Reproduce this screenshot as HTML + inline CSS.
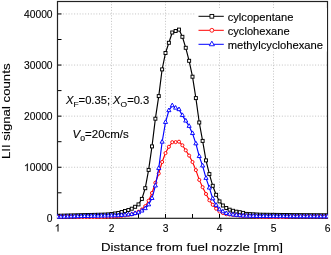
<!DOCTYPE html>
<html><head><meta charset="utf-8"><style>
html,body{margin:0;padding:0;background:#fff;width:331px;height:255px;overflow:hidden}
svg text{font-family:"Liberation Sans", sans-serif;fill:#000;stroke:#000;stroke-width:0.12px}
svg{will-change:transform}
.g1{fill:#000;stroke:#000;stroke-width:0.12px}
</style></head><body>
<svg width="331" height="255" viewBox="0 0 331 255" style="display:block"><g stroke="#b4b4b4" stroke-width="0.8" stroke-dasharray="1 1.77"><line x1="111.5" y1="1.5" x2="111.5" y2="218" /><line x1="165.5" y1="1.5" x2="165.5" y2="218" /><line x1="219.5" y1="1.5" x2="219.5" y2="218" /><line x1="273.5" y1="1.5" x2="273.5" y2="218" /><line x1="57.5" y1="167.25" x2="327.5" y2="167.25" /><line x1="57.5" y1="116.15" x2="327.5" y2="116.15" /><line x1="57.5" y1="65.05" x2="327.5" y2="65.05" /><line x1="57.5" y1="13.95" x2="327.5" y2="13.95" /></g><g stroke="#000" stroke-width="1"><line x1="84.5" y1="218" x2="84.5" y2="214" /><line x1="111.5" y1="218" x2="111.5" y2="214" /><line x1="138.5" y1="218" x2="138.5" y2="214" /><line x1="165.5" y1="218" x2="165.5" y2="214" /><line x1="192.5" y1="218" x2="192.5" y2="214" /><line x1="219.5" y1="218" x2="219.5" y2="214" /><line x1="246.5" y1="218" x2="246.5" y2="214" /><line x1="273.5" y1="218" x2="273.5" y2="214" /><line x1="300.5" y1="218" x2="300.5" y2="214" /><line x1="57.5" y1="192.80" x2="61.5" y2="192.80" /><line x1="57.5" y1="167.25" x2="61.5" y2="167.25" /><line x1="57.5" y1="141.70" x2="61.5" y2="141.70" /><line x1="57.5" y1="116.15" x2="61.5" y2="116.15" /><line x1="57.5" y1="90.60" x2="61.5" y2="90.60" /><line x1="57.5" y1="65.05" x2="61.5" y2="65.05" /><line x1="57.5" y1="39.50" x2="61.5" y2="39.50" /><line x1="57.5" y1="13.95" x2="61.5" y2="13.95" /></g><rect x="57.5" y="1.5" width="270" height="216.8" fill="none" stroke="#222" stroke-width="1.2" /><clipPath id="pc"><rect x="57" y="1" width="271" height="218" /></clipPath><g clip-path="url(#pc)"><polyline fill="none" stroke="#000" stroke-width="1.15" points="57.50,215.80 60.88,215.71 64.25,215.63 67.62,215.54 71.00,215.46 74.38,215.37 77.75,215.29 81.12,215.20 84.50,215.11 87.88,215.03 91.25,214.94 94.62,214.86 98.00,214.77 101.38,214.69 104.75,214.60 108.12,214.40 111.50,214.00 114.88,213.50 118.25,213.00 121.62,212.00 125.00,211.00 128.38,210.00 131.75,208.70 135.12,206.80 138.50,204.40 141.88,198.90 145.25,188.20 148.62,169.90 152.00,146.40 155.38,118.70 158.75,96.10 162.12,69.40 165.50,53.00 168.88,42.80 172.25,32.50 175.62,31.00 179.00,29.60 182.38,36.80 185.75,47.80 189.12,60.80 192.50,76.70 195.88,98.10 199.25,122.50 202.62,140.90 206.00,160.40 209.38,174.10 212.75,185.80 216.12,194.80 219.50,201.40 222.88,205.50 226.25,208.00 229.62,209.70 233.00,210.80 236.38,211.70 239.75,212.20 243.12,212.90 246.50,213.90 249.88,214.10 253.25,214.30 256.62,214.50 260.00,214.70 263.38,214.74 266.75,214.78 270.12,214.82 273.50,214.86 276.88,214.90 280.25,214.94 283.62,214.98 287.00,215.02 290.38,215.06 293.75,215.10 297.12,215.12 300.50,215.14 303.88,215.16 307.25,215.18 310.62,215.20 314.00,215.22 317.38,215.24 320.75,215.26 324.12,215.28 327.50,215.30" /><g fill="#fff" stroke="#000" stroke-width="0.95"><rect x="56.00" y="214.30" width="3.00" height="3.00" /><rect x="59.38" y="214.21" width="3.00" height="3.00" /><rect x="62.75" y="214.13" width="3.00" height="3.00" /><rect x="66.12" y="214.04" width="3.00" height="3.00" /><rect x="69.50" y="213.96" width="3.00" height="3.00" /><rect x="72.88" y="213.87" width="3.00" height="3.00" /><rect x="76.25" y="213.79" width="3.00" height="3.00" /><rect x="79.62" y="213.70" width="3.00" height="3.00" /><rect x="83.00" y="213.61" width="3.00" height="3.00" /><rect x="86.38" y="213.53" width="3.00" height="3.00" /><rect x="89.75" y="213.44" width="3.00" height="3.00" /><rect x="93.12" y="213.36" width="3.00" height="3.00" /><rect x="96.50" y="213.27" width="3.00" height="3.00" /><rect x="99.88" y="213.19" width="3.00" height="3.00" /><rect x="103.25" y="213.10" width="3.00" height="3.00" /><rect x="106.62" y="212.90" width="3.00" height="3.00" /><rect x="110.00" y="212.50" width="3.00" height="3.00" /><rect x="113.38" y="212.00" width="3.00" height="3.00" /><rect x="116.75" y="211.50" width="3.00" height="3.00" /><rect x="120.12" y="210.50" width="3.00" height="3.00" /><rect x="123.50" y="209.50" width="3.00" height="3.00" /><rect x="126.88" y="208.50" width="3.00" height="3.00" /><rect x="130.25" y="207.20" width="3.00" height="3.00" /><rect x="133.62" y="205.30" width="3.00" height="3.00" /><rect x="137.00" y="202.90" width="3.00" height="3.00" /><rect x="140.38" y="197.40" width="3.00" height="3.00" /><rect x="143.75" y="186.70" width="3.00" height="3.00" /><rect x="147.12" y="168.40" width="3.00" height="3.00" /><rect x="150.50" y="144.90" width="3.00" height="3.00" /><rect x="153.88" y="117.20" width="3.00" height="3.00" /><rect x="157.25" y="94.60" width="3.00" height="3.00" /><rect x="160.62" y="67.90" width="3.00" height="3.00" /><rect x="164.00" y="51.50" width="3.00" height="3.00" /><rect x="167.38" y="41.30" width="3.00" height="3.00" /><rect x="170.75" y="31.00" width="3.00" height="3.00" /><rect x="174.12" y="29.50" width="3.00" height="3.00" /><rect x="177.50" y="28.10" width="3.00" height="3.00" /><rect x="180.88" y="35.30" width="3.00" height="3.00" /><rect x="184.25" y="46.30" width="3.00" height="3.00" /><rect x="187.62" y="59.30" width="3.00" height="3.00" /><rect x="191.00" y="75.20" width="3.00" height="3.00" /><rect x="194.38" y="96.60" width="3.00" height="3.00" /><rect x="197.75" y="121.00" width="3.00" height="3.00" /><rect x="201.12" y="139.40" width="3.00" height="3.00" /><rect x="204.50" y="158.90" width="3.00" height="3.00" /><rect x="207.88" y="172.60" width="3.00" height="3.00" /><rect x="211.25" y="184.30" width="3.00" height="3.00" /><rect x="214.62" y="193.30" width="3.00" height="3.00" /><rect x="218.00" y="199.90" width="3.00" height="3.00" /><rect x="221.38" y="204.00" width="3.00" height="3.00" /><rect x="224.75" y="206.50" width="3.00" height="3.00" /><rect x="228.12" y="208.20" width="3.00" height="3.00" /><rect x="231.50" y="209.30" width="3.00" height="3.00" /><rect x="234.88" y="210.20" width="3.00" height="3.00" /><rect x="238.25" y="210.70" width="3.00" height="3.00" /><rect x="241.62" y="211.40" width="3.00" height="3.00" /><rect x="245.00" y="212.40" width="3.00" height="3.00" /><rect x="248.38" y="212.60" width="3.00" height="3.00" /><rect x="251.75" y="212.80" width="3.00" height="3.00" /><rect x="255.12" y="213.00" width="3.00" height="3.00" /><rect x="258.50" y="213.20" width="3.00" height="3.00" /><rect x="261.88" y="213.24" width="3.00" height="3.00" /><rect x="265.25" y="213.28" width="3.00" height="3.00" /><rect x="268.62" y="213.32" width="3.00" height="3.00" /><rect x="272.00" y="213.36" width="3.00" height="3.00" /><rect x="275.38" y="213.40" width="3.00" height="3.00" /><rect x="278.75" y="213.44" width="3.00" height="3.00" /><rect x="282.12" y="213.48" width="3.00" height="3.00" /><rect x="285.50" y="213.52" width="3.00" height="3.00" /><rect x="288.88" y="213.56" width="3.00" height="3.00" /><rect x="292.25" y="213.60" width="3.00" height="3.00" /><rect x="295.62" y="213.62" width="3.00" height="3.00" /><rect x="299.00" y="213.64" width="3.00" height="3.00" /><rect x="302.38" y="213.66" width="3.00" height="3.00" /><rect x="305.75" y="213.68" width="3.00" height="3.00" /><rect x="309.12" y="213.70" width="3.00" height="3.00" /><rect x="312.50" y="213.72" width="3.00" height="3.00" /><rect x="315.88" y="213.74" width="3.00" height="3.00" /><rect x="319.25" y="213.76" width="3.00" height="3.00" /><rect x="322.62" y="213.78" width="3.00" height="3.00" /><rect x="326.00" y="213.80" width="3.00" height="3.00" /></g><polyline fill="none" stroke="#f00" stroke-width="1.15" points="57.50,216.70 60.88,216.72 64.25,216.74 67.62,216.76 71.00,216.78 74.38,216.80 77.75,217.15 81.12,217.50 84.50,217.46 87.88,217.42 91.25,217.38 94.62,217.34 98.00,217.30 101.38,217.15 104.75,217.00 108.12,216.85 111.50,216.70 114.88,216.55 118.25,216.40 121.62,215.90 125.00,215.40 128.38,214.90 131.75,214.30 135.12,213.30 138.50,211.80 141.88,209.50 145.25,206.20 148.62,200.70 152.00,193.00 155.38,182.80 158.75,173.50 162.12,162.00 165.50,153.10 168.88,146.80 172.25,142.20 175.62,142.10 179.00,141.70 182.38,145.30 185.75,150.30 189.12,155.60 192.50,162.00 195.88,170.10 199.25,179.90 202.62,187.20 206.00,194.00 209.38,200.30 212.75,204.80 216.12,208.70 219.50,211.50 222.88,213.00 226.25,214.20 229.62,214.54 233.00,214.88 236.38,215.22 239.75,215.56 243.12,215.90 246.50,216.10 249.88,216.30 253.25,216.50 256.62,216.70 260.00,216.90 263.38,216.98 266.75,217.07 270.12,217.15 273.50,217.23 276.88,217.32 280.25,217.40 283.62,217.20 287.00,217.00 290.38,216.80 293.75,216.60 297.12,216.60 300.50,216.60 303.88,216.60 307.25,216.60 310.62,216.60 314.00,216.60 317.38,216.60 320.75,216.60 324.12,216.60 327.50,216.60" /><g fill="#fff" stroke="#f00" stroke-width="0.95"><circle cx="57.50" cy="216.70" r="1.55" /><circle cx="60.88" cy="216.72" r="1.55" /><circle cx="64.25" cy="216.74" r="1.55" /><circle cx="67.62" cy="216.76" r="1.55" /><circle cx="71.00" cy="216.78" r="1.55" /><circle cx="74.38" cy="216.80" r="1.55" /><circle cx="77.75" cy="217.15" r="1.55" /><circle cx="81.12" cy="217.50" r="1.55" /><circle cx="84.50" cy="217.46" r="1.55" /><circle cx="87.88" cy="217.42" r="1.55" /><circle cx="91.25" cy="217.38" r="1.55" /><circle cx="94.62" cy="217.34" r="1.55" /><circle cx="98.00" cy="217.30" r="1.55" /><circle cx="101.38" cy="217.15" r="1.55" /><circle cx="104.75" cy="217.00" r="1.55" /><circle cx="108.12" cy="216.85" r="1.55" /><circle cx="111.50" cy="216.70" r="1.55" /><circle cx="114.88" cy="216.55" r="1.55" /><circle cx="118.25" cy="216.40" r="1.55" /><circle cx="121.62" cy="215.90" r="1.55" /><circle cx="125.00" cy="215.40" r="1.55" /><circle cx="128.38" cy="214.90" r="1.55" /><circle cx="131.75" cy="214.30" r="1.55" /><circle cx="135.12" cy="213.30" r="1.55" /><circle cx="138.50" cy="211.80" r="1.55" /><circle cx="141.88" cy="209.50" r="1.55" /><circle cx="145.25" cy="206.20" r="1.55" /><circle cx="148.62" cy="200.70" r="1.55" /><circle cx="152.00" cy="193.00" r="1.55" /><circle cx="155.38" cy="182.80" r="1.55" /><circle cx="158.75" cy="173.50" r="1.55" /><circle cx="162.12" cy="162.00" r="1.55" /><circle cx="165.50" cy="153.10" r="1.55" /><circle cx="168.88" cy="146.80" r="1.55" /><circle cx="172.25" cy="142.20" r="1.55" /><circle cx="175.62" cy="142.10" r="1.55" /><circle cx="179.00" cy="141.70" r="1.55" /><circle cx="182.38" cy="145.30" r="1.55" /><circle cx="185.75" cy="150.30" r="1.55" /><circle cx="189.12" cy="155.60" r="1.55" /><circle cx="192.50" cy="162.00" r="1.55" /><circle cx="195.88" cy="170.10" r="1.55" /><circle cx="199.25" cy="179.90" r="1.55" /><circle cx="202.62" cy="187.20" r="1.55" /><circle cx="206.00" cy="194.00" r="1.55" /><circle cx="209.38" cy="200.30" r="1.55" /><circle cx="212.75" cy="204.80" r="1.55" /><circle cx="216.12" cy="208.70" r="1.55" /><circle cx="219.50" cy="211.50" r="1.55" /><circle cx="222.88" cy="213.00" r="1.55" /><circle cx="226.25" cy="214.20" r="1.55" /><circle cx="229.62" cy="214.54" r="1.55" /><circle cx="233.00" cy="214.88" r="1.55" /><circle cx="236.38" cy="215.22" r="1.55" /><circle cx="239.75" cy="215.56" r="1.55" /><circle cx="243.12" cy="215.90" r="1.55" /><circle cx="246.50" cy="216.10" r="1.55" /><circle cx="249.88" cy="216.30" r="1.55" /><circle cx="253.25" cy="216.50" r="1.55" /><circle cx="256.62" cy="216.70" r="1.55" /><circle cx="260.00" cy="216.90" r="1.55" /><circle cx="263.38" cy="216.98" r="1.55" /><circle cx="266.75" cy="217.07" r="1.55" /><circle cx="270.12" cy="217.15" r="1.55" /><circle cx="273.50" cy="217.23" r="1.55" /><circle cx="276.88" cy="217.32" r="1.55" /><circle cx="280.25" cy="217.40" r="1.55" /><circle cx="283.62" cy="217.20" r="1.55" /><circle cx="287.00" cy="217.00" r="1.55" /><circle cx="290.38" cy="216.80" r="1.55" /><circle cx="293.75" cy="216.60" r="1.55" /><circle cx="297.12" cy="216.60" r="1.55" /><circle cx="300.50" cy="216.60" r="1.55" /><circle cx="303.88" cy="216.60" r="1.55" /><circle cx="307.25" cy="216.60" r="1.55" /><circle cx="310.62" cy="216.60" r="1.55" /><circle cx="314.00" cy="216.60" r="1.55" /><circle cx="317.38" cy="216.60" r="1.55" /><circle cx="320.75" cy="216.60" r="1.55" /><circle cx="324.12" cy="216.60" r="1.55" /><circle cx="327.50" cy="216.60" r="1.55" /></g><polyline fill="none" stroke="#00f" stroke-width="1.15" points="57.50,217.00 60.88,216.92 64.25,216.84 67.62,216.77 71.00,216.69 74.38,216.61 77.75,216.53 81.12,216.46 84.50,216.38 87.88,216.30 91.25,216.22 94.62,216.14 98.00,216.07 101.38,215.99 104.75,215.91 108.12,215.83 111.50,215.76 114.88,215.68 118.25,215.60 121.62,215.30 125.00,215.00 128.38,214.70 131.75,214.40 135.12,213.40 138.50,212.60 141.88,210.90 145.25,208.50 148.62,204.70 152.00,198.30 155.38,185.80 158.75,168.30 162.12,142.00 165.50,122.30 168.88,110.50 172.25,105.60 175.62,108.00 179.00,109.50 182.38,115.40 185.75,120.90 189.12,126.20 192.50,133.40 195.88,143.70 199.25,156.40 202.62,165.80 206.00,178.20 209.38,187.90 212.75,198.70 216.12,205.20 219.50,209.70 222.88,211.70 226.25,213.40 229.62,214.10 233.00,214.80 236.38,215.17 239.75,215.53 243.12,215.90 246.50,216.00 249.88,216.10 253.25,216.20 256.62,216.30 260.00,216.40 263.38,216.42 266.75,216.43 270.12,216.44 273.50,216.46 276.88,216.48 280.25,216.49 283.62,216.50 287.00,216.52 290.38,216.54 293.75,216.55 297.12,216.56 300.50,216.58 303.88,216.60 307.25,216.61 310.62,216.62 314.00,216.64 317.38,216.66 320.75,216.67 324.12,216.69 327.50,216.70" /><g fill="#fff" stroke="#00f" stroke-width="0.95"><path d="M57.50,214.50L59.55,218.15L55.45,218.15Z" /><path d="M60.88,214.42L62.92,218.07L58.83,218.07Z" /><path d="M64.25,214.34L66.30,217.99L62.20,217.99Z" /><path d="M67.62,214.27L69.67,217.92L65.58,217.92Z" /><path d="M71.00,214.19L73.05,217.84L68.95,217.84Z" /><path d="M74.38,214.11L76.42,217.76L72.33,217.76Z" /><path d="M77.75,214.03L79.80,217.68L75.70,217.68Z" /><path d="M81.12,213.96L83.17,217.61L79.08,217.61Z" /><path d="M84.50,213.88L86.55,217.53L82.45,217.53Z" /><path d="M87.88,213.80L89.92,217.45L85.83,217.45Z" /><path d="M91.25,213.72L93.30,217.37L89.20,217.37Z" /><path d="M94.62,213.64L96.67,217.29L92.58,217.29Z" /><path d="M98.00,213.57L100.05,217.22L95.95,217.22Z" /><path d="M101.38,213.49L103.42,217.14L99.33,217.14Z" /><path d="M104.75,213.41L106.80,217.06L102.70,217.06Z" /><path d="M108.12,213.33L110.17,216.98L106.08,216.98Z" /><path d="M111.50,213.26L113.55,216.91L109.45,216.91Z" /><path d="M114.88,213.18L116.92,216.83L112.83,216.83Z" /><path d="M118.25,213.10L120.30,216.75L116.20,216.75Z" /><path d="M121.62,212.80L123.67,216.45L119.58,216.45Z" /><path d="M125.00,212.50L127.05,216.15L122.95,216.15Z" /><path d="M128.38,212.20L130.43,215.85L126.33,215.85Z" /><path d="M131.75,211.90L133.80,215.55L129.70,215.55Z" /><path d="M135.12,210.90L137.18,214.55L133.07,214.55Z" /><path d="M138.50,210.10L140.55,213.75L136.45,213.75Z" /><path d="M141.88,208.40L143.93,212.05L139.82,212.05Z" /><path d="M145.25,206.00L147.30,209.65L143.20,209.65Z" /><path d="M148.62,202.20L150.68,205.85L146.57,205.85Z" /><path d="M152.00,195.80L154.05,199.45L149.95,199.45Z" /><path d="M155.38,183.30L157.43,186.95L153.32,186.95Z" /><path d="M158.75,165.80L160.80,169.45L156.70,169.45Z" /><path d="M162.12,139.50L164.18,143.15L160.07,143.15Z" /><path d="M165.50,119.80L167.55,123.45L163.45,123.45Z" /><path d="M168.88,108.00L170.93,111.65L166.82,111.65Z" /><path d="M172.25,103.10L174.30,106.75L170.20,106.75Z" /><path d="M175.62,105.50L177.68,109.15L173.57,109.15Z" /><path d="M179.00,107.00L181.05,110.65L176.95,110.65Z" /><path d="M182.38,112.90L184.43,116.55L180.32,116.55Z" /><path d="M185.75,118.40L187.80,122.05L183.70,122.05Z" /><path d="M189.12,123.70L191.18,127.35L187.07,127.35Z" /><path d="M192.50,130.90L194.55,134.55L190.45,134.55Z" /><path d="M195.88,141.20L197.93,144.85L193.82,144.85Z" /><path d="M199.25,153.90L201.30,157.55L197.20,157.55Z" /><path d="M202.62,163.30L204.68,166.95L200.57,166.95Z" /><path d="M206.00,175.70L208.05,179.35L203.95,179.35Z" /><path d="M209.38,185.40L211.43,189.05L207.32,189.05Z" /><path d="M212.75,196.20L214.80,199.85L210.70,199.85Z" /><path d="M216.12,202.70L218.18,206.35L214.07,206.35Z" /><path d="M219.50,207.20L221.55,210.85L217.45,210.85Z" /><path d="M222.88,209.20L224.93,212.85L220.82,212.85Z" /><path d="M226.25,210.90L228.30,214.55L224.20,214.55Z" /><path d="M229.62,211.60L231.68,215.25L227.57,215.25Z" /><path d="M233.00,212.30L235.05,215.95L230.95,215.95Z" /><path d="M236.38,212.67L238.43,216.32L234.32,216.32Z" /><path d="M239.75,213.03L241.80,216.68L237.70,216.68Z" /><path d="M243.12,213.40L245.18,217.05L241.07,217.05Z" /><path d="M246.50,213.50L248.55,217.15L244.45,217.15Z" /><path d="M249.88,213.60L251.93,217.25L247.82,217.25Z" /><path d="M253.25,213.70L255.30,217.35L251.20,217.35Z" /><path d="M256.62,213.80L258.68,217.45L254.57,217.45Z" /><path d="M260.00,213.90L262.05,217.55L257.95,217.55Z" /><path d="M263.38,213.92L265.43,217.57L261.32,217.57Z" /><path d="M266.75,213.93L268.80,217.58L264.70,217.58Z" /><path d="M270.12,213.94L272.18,217.59L268.07,217.59Z" /><path d="M273.50,213.96L275.55,217.61L271.45,217.61Z" /><path d="M276.88,213.98L278.93,217.63L274.82,217.63Z" /><path d="M280.25,213.99L282.30,217.64L278.20,217.64Z" /><path d="M283.62,214.00L285.68,217.66L281.57,217.66Z" /><path d="M287.00,214.02L289.05,217.67L284.95,217.67Z" /><path d="M290.38,214.04L292.43,217.69L288.32,217.69Z" /><path d="M293.75,214.05L295.80,217.70L291.70,217.70Z" /><path d="M297.12,214.06L299.18,217.72L295.07,217.72Z" /><path d="M300.50,214.08L302.55,217.73L298.45,217.73Z" /><path d="M303.88,214.10L305.93,217.75L301.82,217.75Z" /><path d="M307.25,214.11L309.30,217.76L305.20,217.76Z" /><path d="M310.62,214.12L312.68,217.78L308.57,217.78Z" /><path d="M314.00,214.14L316.05,217.79L311.95,217.79Z" /><path d="M317.38,214.16L319.43,217.81L315.32,217.81Z" /><path d="M320.75,214.17L322.80,217.82L318.70,217.82Z" /><path d="M324.12,214.19L326.18,217.84L322.07,217.84Z" /><path d="M327.50,214.20L329.55,217.85L325.45,217.85Z" /></g></g><rect x="196" y="8" width="131" height="43.5" fill="#fff" /><line x1="198.5" y1="16.3" x2="223.8" y2="16.3" stroke="#000" stroke-width="1" /><g fill="#fff" stroke="#000" stroke-width="0.9"><rect x="209.97" y="14.43" width="3.75" height="3.75" /></g><text x="227.7" y="20.5" font-size="10.4" textLength="65.8" lengthAdjust="spacingAndGlyphs">cylcopentane</text><line x1="198.5" y1="30.3" x2="223.8" y2="30.3" stroke="#f00" stroke-width="1" /><g fill="#fff" stroke="#f00" stroke-width="0.9"><circle cx="211.85" cy="30.30" r="1.94" /></g><text x="227.7" y="34.5" font-size="10.4" textLength="62.0" lengthAdjust="spacingAndGlyphs">cyclohexane</text><line x1="198.5" y1="44.3" x2="223.8" y2="44.3" stroke="#00f" stroke-width="1" /><g fill="#fff" stroke="#00f" stroke-width="0.9"><path d="M211.85,41.17L214.41,45.74L209.29,45.74Z" /></g><text x="227.7" y="48.5" font-size="10.4" textLength="95.3" lengthAdjust="spacingAndGlyphs">methylcyclohexane</text><text x="52.6" y="222.05" font-size="10.3" text-anchor="end">0</text><text x="52.6" y="170.95" font-size="10.3" text-anchor="end">0000</text><path class="g1" d="M27.80,170.95L26.89,170.95L26.89,165.18Q26.56,165.49 26.03,165.81Q25.50,166.12 25.08,166.27L25.08,165.40Q25.84,165.04 26.41,164.53Q26.98,164.02 27.21,163.55L27.80,163.55Z" /><text x="52.6" y="119.85" font-size="10.3" text-anchor="end">20000</text><text x="52.6" y="68.75" font-size="10.3" text-anchor="end">30000</text><text x="52.6" y="17.65" font-size="10.3" text-anchor="end">40000</text><path class="g1" d="M58.47,231.50L57.57,231.50L57.57,225.73Q57.24,226.04 56.71,226.36Q56.18,226.67 55.76,226.82L55.76,225.95Q56.52,225.59 57.09,225.08Q57.65,224.57 57.89,224.10L58.47,224.10Z" /><text x="111.50" y="231.5" font-size="10.3" text-anchor="middle">2</text><text x="165.50" y="231.5" font-size="10.3" text-anchor="middle">3</text><text x="219.50" y="231.5" font-size="10.3" text-anchor="middle">4</text><text x="273.50" y="231.5" font-size="10.3" text-anchor="middle">5</text><text x="327.50" y="231.5" font-size="10.3" text-anchor="middle">6</text><text x="101" y="251" font-size="11.8" textLength="182" lengthAdjust="spacingAndGlyphs">Distance from fuel nozzle [mm]</text><text transform="translate(10.4,159) rotate(-90)" x="0" y="0" font-size="11.8" textLength="95.5" lengthAdjust="spacingAndGlyphs">LII signal counts</text><text x="66" y="104" font-size="10.3" textLength="83.2" lengthAdjust="spacingAndGlyphs"><tspan font-style="italic">X</tspan><tspan font-size="7.8" dy="2.9">F</tspan><tspan dy="-2.9">=0.35; </tspan><tspan font-style="italic">X</tspan><tspan font-size="7.8" dy="2.9">O</tspan><tspan dy="-2.9">=0.3</tspan></text><text x="72.6" y="137.6" font-size="10.3" textLength="56.2" lengthAdjust="spacingAndGlyphs"><tspan font-style="italic">V</tspan><tspan font-size="7.8" dy="2.9">0</tspan><tspan dy="-2.9">=20cm/s</tspan></text></svg>
</body></html>
